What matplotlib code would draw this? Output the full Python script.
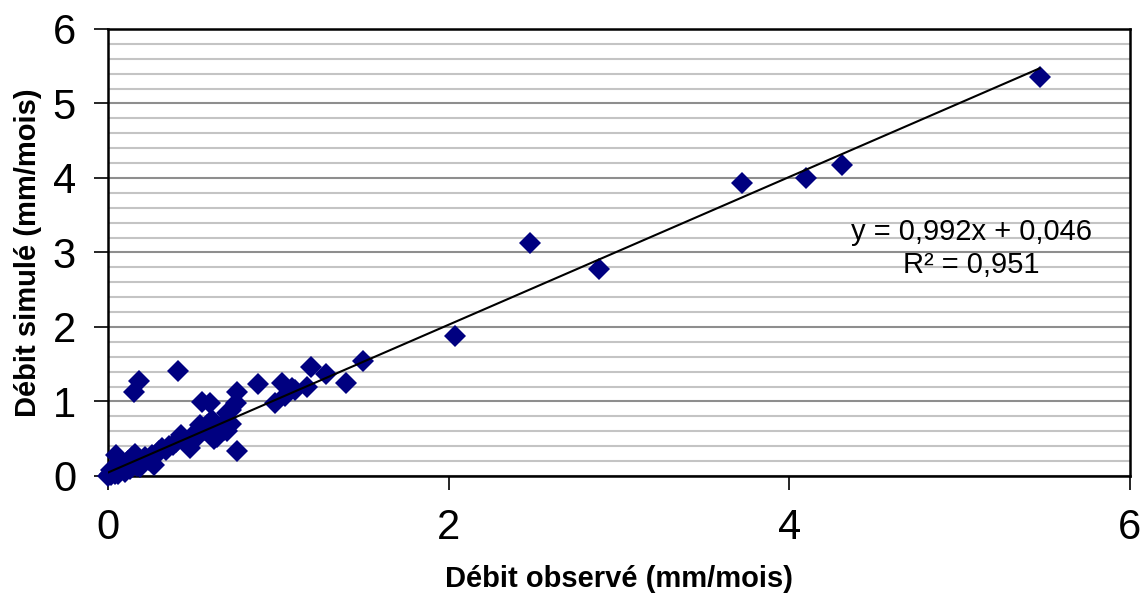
import numpy as np
import matplotlib
matplotlib.use("Agg")
import matplotlib.pyplot as plt
from matplotlib.ticker import MultipleLocator

plt.rcParams['font.family'] = ['Liberation Sans', 'DejaVu Sans']

# observed / simulated monthly discharge (mm/mois)
obs = [0.00, 0.01, 0.02, 0.03, 0.02, 0.04, 0.05, 0.06, 0.05, 0.07,
       0.08, 0.09, 0.10, 0.11, 0.12, 0.13, 0.14, 0.15, 0.16, 0.17,
       0.18, 0.19, 0.20, 0.22, 0.24, 0.26, 0.27, 0.29, 0.30, 0.32,
       0.34, 0.36, 0.38, 0.40, 0.43, 0.44, 0.48, 0.50, 0.53, 0.54,
       0.55, 0.60, 0.57, 0.60, 0.61, 0.62, 0.64, 0.66, 0.68, 0.70,
       0.70, 0.72, 0.75, 0.76, 0.76, 0.72, 0.65, 0.58,
       0.15, 0.18, 0.41, 0.88, 0.98, 1.02, 1.04, 1.08, 1.10, 1.17,
       1.19, 1.28, 1.40, 1.50, 2.04, 2.48, 2.88, 3.72, 4.10, 4.31, 5.47]
sim = [0.00, 0.02, 0.01, 0.05, 0.08, 0.03, 0.06, 0.02, 0.28, 0.18,
       0.10, 0.13, 0.05, 0.15, 0.20, 0.10, 0.25, 0.18, 0.30, 0.14,
       0.22, 0.12, 0.20, 0.25, 0.22, 0.28, 0.15, 0.30, 0.33, 0.38,
       0.35, 0.40, 0.42, 0.45, 0.55, 0.50, 0.37, 0.55, 0.53, 0.69,
       0.99, 0.98, 0.62, 0.58, 0.75, 0.50, 0.52, 0.66, 0.62, 0.60,
       0.84, 0.89, 0.98, 1.13, 0.34, 0.70, 0.56, 0.68,
       1.13, 1.28, 1.41, 1.24, 0.98, 1.25, 1.07, 1.18, 1.15, 1.20,
       1.46, 1.37, 1.25, 1.54, 1.88, 3.13, 2.78, 3.93, 4.00, 4.17, 5.35]

slope, intercept, r2 = 0.992, 0.046, 0.951

fig = plt.figure(figsize=(11.46, 5.94), dpi=100)
ax = fig.add_axes([0.0942, 0.1987, 0.8918, 0.7525])

ax.yaxis.set_minor_locator(MultipleLocator(0.2))
ax.grid(axis='y', which='minor', color='#c4c4c4', lw=1.5, zorder=0)
ax.grid(axis='y', which='major', color='#8e8e8e', lw=1.5, zorder=0)

ax.plot(obs, sim, ls='none', marker='D', ms=11, color='#000080',
        markeredgewidth=0, zorder=3, clip_on=False)

xl = np.array([0, max(obs)])
ax.plot(xl, slope * xl + intercept, color='black', lw=1.5, zorder=4)

ax.text(0.845, 0.546, f'y = {slope:.3f}x + {intercept:.3f}'.replace('.', ','),
        transform=ax.transAxes, ha='center', va='center', fontsize=21)
ax.text(0.845, 0.472, f'R² = {r2:.3f}'.replace('.', ','),
        transform=ax.transAxes, ha='center', va='center', fontsize=21)

ax.set_xlim(0, 6)
ax.set_ylim(0, 6)
ax.set_xticks([0, 2, 4, 6])
ax.set_yticks(range(7))
ax.tick_params(which='major', direction='out', length=10, width=1.2,
               labelsize=30, pad=13)
ax.tick_params(which='minor', length=0)
for s in ax.spines.values():
    s.set_linewidth(1.8)

ax.set_xlabel('Débit observé (mm/mois)', fontsize=21, fontweight='bold', labelpad=12)
ax.set_ylabel('Débit simulé (mm/mois)', fontsize=21, fontweight='bold', labelpad=8)

fig.savefig('out.png', dpi=100)
